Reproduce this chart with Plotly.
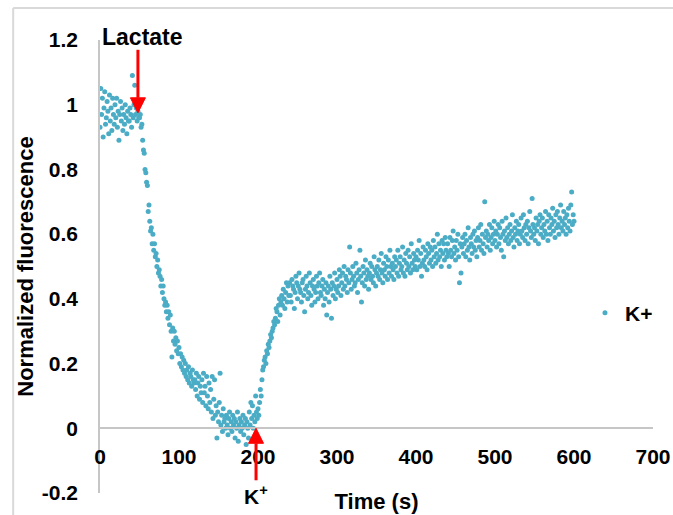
import plotly.graph_objects as go

# ---- data ----
time_s = list(range(0, 601))  # one sample per second

fluorescence = [
    # 0-49 s baseline
    0.93, 1.05, 0.97, 1.02, 0.90, 0.99, 1.04, 0.94, 0.96, 1.01,
    0.98, 0.91, 1.03, 0.95, 0.99, 0.92, 1.02, 0.97, 0.94, 1.00,
    0.96, 1.02, 0.93, 0.98, 0.89, 0.97, 1.01, 0.95, 0.99, 0.92,
    0.97, 0.94, 1.00, 0.96, 0.91, 0.98, 0.95, 0.95, 0.99, 0.97,
    0.93, 1.09, 0.96, 1.00, 1.06, 0.97, 0.99, 0.95, 0.98, 0.96,
    # 50-119 s decline after lactate
    0.96, 0.97, 0.93, 0.94, 0.89, 0.86, 0.85, 0.80, 0.79, 0.76,
    0.75, 0.67, 0.69, 0.64, 0.61, 0.62, 0.57, 0.60, 0.55, 0.57,
    0.53, 0.54, 0.50, 0.52, 0.48, 0.49, 0.47, 0.44, 0.46, 0.42,
    0.44, 0.40, 0.38, 0.39, 0.36, 0.38, 0.34, 0.36, 0.32, 0.35,
    0.30, 0.22, 0.31, 0.27, 0.30, 0.26, 0.28, 0.24, 0.27, 0.23,
    0.25, 0.20, 0.23, 0.19, 0.22, 0.18, 0.21, 0.17, 0.20, 0.16,
    0.18, 0.15, 0.19, 0.14, 0.17, 0.16, 0.13, 0.18, 0.15, 0.14,
    # 120-199 s minimum
    0.15, 0.12, 0.17, 0.10, 0.14, 0.16, 0.09, 0.13, 0.11, 0.15,
    0.08, 0.17, 0.11, 0.13, 0.07, 0.16, 0.10, 0.06, 0.14, 0.08,
    0.12, 0.05, 0.16, 0.03, 0.09, 0.15, 0.04, 0.07, -0.03, 0.05,
    0.02, 0.08, 0.17, 0.01, 0.04, -0.01, 0.06, 0.02, 0.03, 0.00,
    0.04, 0.01, -0.02, 0.03, 0.05, 0.00, 0.02, -0.01, 0.04, 0.01,
    0.03, -0.03, 0.02, 0.00, 0.05, -0.04, 0.01, 0.03, -0.01, 0.02,
    0.00, 0.04, -0.02, 0.01, 0.03, -0.05, 0.02, 0.00, -0.03, 0.05,
    0.01, 0.08, 0.03, 0.07, 0.00, 0.04, 0.02, 0.10, 0.05, 0.03,
    # 200-239 s fast recovery after K+
    0.06, 0.04, 0.08, 0.12, 0.10, 0.15, 0.18, 0.19, 0.21, 0.22,
    0.20, 0.24, 0.23, 0.26, 0.25, 0.27, 0.29, 0.28, 0.30, 0.31,
    0.33, 0.32, 0.34, 0.37, 0.36, 0.33, 0.38, 0.40, 0.35, 0.39,
    0.41, 0.38, 0.43, 0.40, 0.37, 0.42, 0.45, 0.39, 0.44, 0.41,
    # 240-299 s
    0.45, 0.41, 0.39, 0.46, 0.44, 0.43, 0.37, 0.42, 0.47, 0.45,
    0.40, 0.44, 0.48, 0.43, 0.42, 0.39, 0.45, 0.46, 0.41, 0.36,
    0.43, 0.47, 0.44, 0.40, 0.42, 0.48, 0.45, 0.41, 0.38, 0.44,
    0.46, 0.43, 0.39, 0.42, 0.47, 0.44, 0.40, 0.45, 0.48, 0.42,
    0.41, 0.44, 0.46, 0.38, 0.43, 0.40, 0.45, 0.35, 0.42, 0.44,
    0.39, 0.47, 0.43, 0.34, 0.45, 0.41, 0.44, 0.48, 0.40, 0.43,
    # 300-399 s
    0.46, 0.42, 0.44, 0.49, 0.47, 0.41, 0.45, 0.48, 0.43, 0.50,
    0.44, 0.47, 0.46, 0.42, 0.49, 0.45, 0.56, 0.48, 0.43, 0.46,
    0.50, 0.47, 0.44, 0.45, 0.51, 0.48, 0.42, 0.46, 0.49, 0.55,
    0.47, 0.39, 0.45, 0.50, 0.48, 0.44, 0.52, 0.46, 0.49, 0.47,
    0.43, 0.48, 0.51, 0.46, 0.50, 0.47, 0.45, 0.53, 0.49, 0.44,
    0.48, 0.50, 0.47, 0.52, 0.46, 0.49, 0.54, 0.48, 0.45, 0.51,
    0.49, 0.47, 0.53, 0.50, 0.46, 0.52, 0.48, 0.55, 0.50, 0.47,
    0.51, 0.49, 0.46, 0.53, 0.50, 0.52, 0.48, 0.55, 0.47, 0.51,
    0.53, 0.49, 0.50, 0.56, 0.48, 0.52, 0.47, 0.54, 0.51, 0.49,
    0.55, 0.50, 0.53, 0.48, 0.57, 0.51, 0.49, 0.54, 0.52, 0.50,
    # 400-499 s
    0.53, 0.49, 0.55, 0.52, 0.58, 0.50, 0.54, 0.47, 0.51, 0.56,
    0.52, 0.50, 0.55, 0.53, 0.49, 0.57, 0.54, 0.51, 0.56, 0.52,
    0.55, 0.50, 0.58, 0.53, 0.56, 0.51, 0.54, 0.60, 0.52, 0.57,
    0.53, 0.55, 0.50, 0.58, 0.54, 0.57, 0.52, 0.59, 0.55, 0.53,
    0.57, 0.54, 0.50, 0.59, 0.55, 0.53, 0.58, 0.61, 0.54, 0.56,
    0.52, 0.58, 0.55, 0.60, 0.53, 0.45, 0.57, 0.48, 0.56, 0.59,
    0.54, 0.57, 0.60, 0.53, 0.58, 0.55, 0.62, 0.56, 0.52, 0.59,
    0.57, 0.54, 0.60, 0.56, 0.61, 0.55, 0.58, 0.53, 0.59, 0.62,
    0.56, 0.58, 0.63, 0.55, 0.60, 0.57, 0.54, 0.70, 0.59, 0.61,
    0.56, 0.60, 0.58, 0.63, 0.55, 0.59, 0.62, 0.57, 0.60, 0.64,
    # 500-600 s
    0.58, 0.61, 0.56, 0.60, 0.63, 0.57, 0.62, 0.59, 0.55, 0.64,
    0.60, 0.53, 0.61, 0.58, 0.65, 0.59, 0.62, 0.57, 0.60, 0.63,
    0.58, 0.61, 0.66, 0.59, 0.56, 0.62, 0.60, 0.64, 0.58, 0.61,
    0.63, 0.57, 0.60, 0.65, 0.61, 0.59, 0.66, 0.62, 0.58, 0.63,
    0.60, 0.64, 0.57, 0.62, 0.67, 0.61, 0.59, 0.71, 0.63, 0.60,
    0.62, 0.58, 0.65, 0.61, 0.63, 0.57, 0.64, 0.66, 0.60, 0.62,
    0.65, 0.59, 0.63, 0.61, 0.67, 0.60, 0.64, 0.58, 0.66, 0.62,
    0.60, 0.65, 0.63, 0.68, 0.61, 0.64, 0.59, 0.66, 0.62, 0.67,
    0.63, 0.60, 0.65, 0.69, 0.62, 0.64, 0.61, 0.67, 0.63, 0.65,
    0.60, 0.66, 0.62, 0.68, 0.64, 0.61, 0.69, 0.73, 0.63, 0.66,
    0.64,
]

series_name = "K+"
x_tick_vals = [0, 100, 200, 300, 400, 500, 600, 700]
y_tick_vals = [-0.2, 0, 0.2, 0.4, 0.6, 0.8, 1.0, 1.2]
y_tick_text = ["-0.2", "0", "0.2", "0.4", "0.6", "0.8", "1", "1.2"]

# event markers: (time, level the arrow points at)
lactate_label = "Lactate"
lactate_time = 48
lactate_level = 0.975
k_label = "K<sup>+</sup>"
k_time = 197.5
k_level = 0.0

# ---- figure ----
FONT = "Liberation Sans, Arial, sans-serif"
INK = "#000000"
AXIS = "#c6c6c6"
RED = "#ff0000"

W, H = 673, 515
M_L, M_R, M_T, M_B = 100, 20, 40, 22
X_RANGE = [0, 700]
Y_RANGE = [-0.2, 1.2]
px_per_x = (W - M_L - M_R) / (X_RANGE[1] - X_RANGE[0])
px_per_y = (H - M_T - M_B) / (Y_RANGE[1] - Y_RANGE[0])


def y_to_paper(v):
    return (v - Y_RANGE[0]) / (Y_RANGE[1] - Y_RANGE[0])


def arrow_shapes(x_tip, y_tip, direction, length_px, head_len_px=15, head_half_px=7.5):
    """Red arrow (shaft + head) pointing at (x_tip, y_tip); direction=-1 points down, +1 up."""
    d = -direction  # tail lies on the opposite side of the tip
    y_tail = y_tip + d * length_px / px_per_y
    y_base = y_tip + d * head_len_px / px_per_y
    hw = head_half_px / px_per_x
    return [
        dict(type="line", xref="x", yref="y", x0=x_tip, x1=x_tip,
             y0=y_tail, y1=y_base, line=dict(color=RED, width=3), layer="above"),
        dict(type="path", xref="x", yref="y",
             path=f"M {x_tip - hw},{y_base} L {x_tip + hw},{y_base} L {x_tip},{y_tip} Z",
             fillcolor=RED, line=dict(color=RED, width=1), layer="above"),
    ]


def bold(s):
    return f"<b>{s}</b>"


fig = go.Figure()
fig.add_trace(
    go.Scatter(
        x=time_s,
        y=fluorescence,
        mode="markers",
        name=bold(series_name),
        showlegend=True,
        marker=dict(color="#4BACC6", size=5, line=dict(width=0)),
    )
)

shapes = [
    dict(type="line", xref="paper", yref="paper",
         x0=-0.157, x1=1.05, y0=1.0706, y1=1.0706,
         line=dict(color="#d9d9d9", width=2)),
    dict(type="line", xref="paper", yref="paper",
         x0=-0.157, x1=-0.157, y0=-0.08, y1=1.0706,
         line=dict(color="#d9d9d9", width=2)),
]
shapes += arrow_shapes(lactate_time, lactate_level, direction=-1, length_px=63)
shapes += arrow_shapes(k_time, k_level, direction=+1, length_px=52)

annotations = [
    dict(x=lactate_time + 6, xref="x",
         y=y_to_paper(lactate_level + 76 / px_per_y), yref="paper",
         text=bold(lactate_label), showarrow=False,
         xanchor="center", yanchor="middle",
         font=dict(family=FONT, size=23, color=INK)),
    dict(x=k_time + 0.5, xref="x",
         y=y_to_paper(k_level - 67 / px_per_y), yref="paper",
         text=bold(k_label), showarrow=False,
         xanchor="center", yanchor="middle",
         font=dict(family=FONT, size=21, color=INK)),
]

fig.update_layout(
    width=W,
    height=H,
    margin=dict(l=M_L, r=M_R, t=M_T, b=M_B),
    paper_bgcolor="white",
    plot_bgcolor="white",
    font=dict(family=FONT, size=21, color=INK),
    showlegend=True,
    legend=dict(
        x=0.877, y=0.397, xanchor="left", yanchor="middle",
        bgcolor="rgba(0,0,0,0)",
        font=dict(family=FONT, size=21, color=INK),
    ),
    xaxis=dict(
        range=X_RANGE,
        tickvals=x_tick_vals,
        ticktext=[bold(v) for v in x_tick_vals],
        showline=True, linecolor=AXIS, linewidth=1.5,
        showgrid=False, zeroline=False,
        anchor="free", position=y_to_paper(0),
        ticks="", ticklabelstandoff=10,
        tickfont=dict(family=FONT, size=21, color=INK),
        title=dict(text=bold("Time (s)"), standoff=25,
                   font=dict(family=FONT, size=22, color=INK)),
        automargin=False,
    ),
    yaxis=dict(
        range=Y_RANGE,
        tickvals=y_tick_vals, ticktext=[bold(t) for t in y_tick_text],
        showline=True, linecolor=AXIS, linewidth=1.5,
        showgrid=False, zeroline=False,
        ticks="", ticklabelstandoff=16,
        tickfont=dict(family=FONT, size=21, color=INK),
        title=dict(text=bold("Normalized fluorescence"), standoff=2,
                   font=dict(family=FONT, size=22, color=INK)),
        automargin=False,
    ),
    shapes=shapes,
    annotations=annotations,
)

fig.write_html("out.html")
